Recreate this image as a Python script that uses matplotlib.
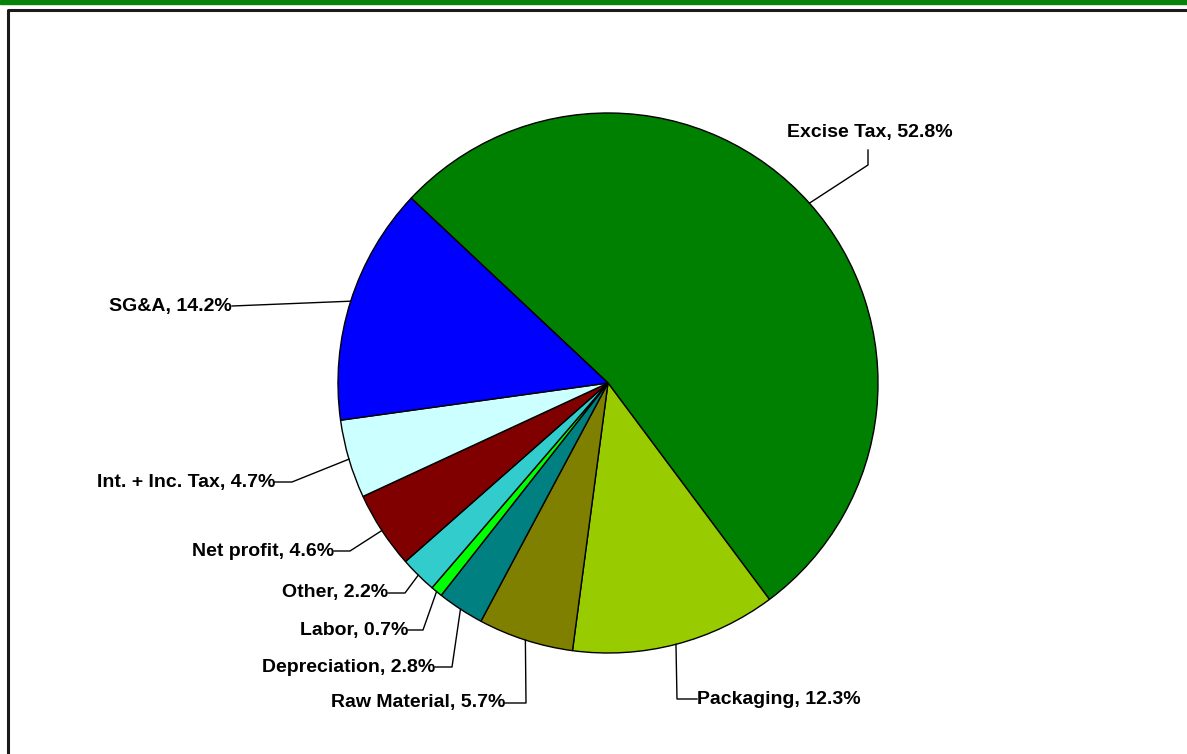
import matplotlib.pyplot as plt
from matplotlib.lines import Line2D
from matplotlib.patches import Rectangle
import numpy as np

# --- Cost breakdown data ---
categories = ['Excise Tax', 'Packaging', 'Raw Material', 'Depreciation', 'Labor',
              'Other', 'Net profit', 'Int. + Inc. Tax', 'SG&A']
shares = [52.8, 12.3, 5.7, 2.8, 0.7, 2.2, 4.6, 4.7, 14.2]
colors = ['#008000', '#99CC00', '#808000', '#008080', '#00FF00',
          '#33CCCC', '#800000', '#CCFFFF', '#0000FF']

# label anchor (pixel x, pixel y), elbow point, alignment
label_pos = {
    'Excise Tax':      ((870, 132), (868, 150), 'center'),
    'Packaging':       ((697, 699), (677, 699), 'left'),
    'Raw Material':    ((505, 703), (526, 703), 'right'),
    'Depreciation':    ((435, 667), (452, 667), 'right'),
    'Labor':           ((408, 630), (423, 630), 'right'),
    'Other':           ((388, 593), (405, 593), 'right'),
    'Net profit':      ((334, 551), (350, 551), 'right'),
    'Int. + Inc. Tax': ((275, 482), (292, 482), 'right'),
    'SG&A':            ((232, 306), (232, 306), 'right'),
}

W, H = 1187, 754
fig = plt.figure(figsize=(W / 100, H / 100), dpi=100)
ax = fig.add_axes([0, 0, 1, 1])
ax.set_xlim(0, W)
ax.set_ylim(0, H)
ax.set_aspect('equal')
ax.axis('off')

# frame: green band on top, black border below it
ax.add_patch(Rectangle((0, H - 4), W, 4, color='#098209', zorder=1))
ax.add_line(Line2D([8, 8, W], [0, H - 10, H - 10], color='#1a1a1a', lw=2.2, zorder=1))

cx, cy, r = 608, H - 383, 270
start = 136.8
wedges, _ = ax.pie(shares, colors=colors, startangle=start, counterclock=False,
                   center=(cx, cy), radius=r, frame=True,
                   wedgeprops=dict(edgecolor='black', linewidth=1.0))
ax.set_xlim(0, W)
ax.set_ylim(0, H)
ax.axis('off')

for w, name, val in zip(wedges, categories, shares):
    mid = np.deg2rad((w.theta1 + w.theta2) / 2)
    ex, ey = cx + r * np.cos(mid), cy + r * np.sin(mid)
    (tx, ty), (bx, by), ha = label_pos[name]
    ty, by = H - ty, H - by
    if name == 'Excise Tax':
        xs, ys = [ex, bx, bx], [ey, by - 15, by]
    elif name == 'SG&A':
        xs, ys = [ex, bx], [ey, by]
    else:
        xs, ys = [ex, bx, tx], [ey, by, by]
    ax.plot(xs, ys, color='black', lw=1.0, zorder=3)
    ax.text(tx, ty, f'{name}, {val}%', ha=ha, va='center', fontsize=14,
            fontweight='bold', family=['Liberation Sans', 'DejaVu Sans'], zorder=4)

fig.savefig('out.png', dpi=100)
